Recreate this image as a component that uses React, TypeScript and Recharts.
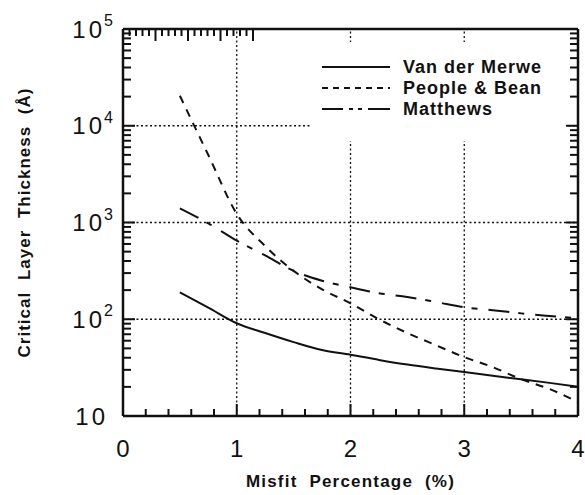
import React from 'react';
import { LineChart, Line, XAxis, YAxis, ReferenceLine, Legend, Label } from 'recharts';

// Misfit percentage (%) sample points shared by all three models
const misfit = [0.5, 0.75, 1.0, 1.25, 1.5, 1.75, 2.0, 2.25, 2.5, 2.75, 3.0, 3.25, 3.5, 3.75, 4.0];
// Critical layer thickness (Å) per model
const vanDerMerwe = [190, 132, 91, 72, 58, 48, 43, 38, 34, 31, 28.5, 26, 24, 22, 20];
const peopleBean = [20400, 4980, 1230, 570, 316, 204, 146, 100, 72, 54, 40.6, 32, 24, 19, 13.9];
const matthews = [1400, 980, 650, 457, 316, 250, 214, 186, 170, 151, 133, 124, 115, 108, 102];

// Axis ticks
const xMajorTicks = [0, 1, 2, 3, 4];
const xMinorTicks = [0.2, 0.4, 0.6, 0.8, 1.2, 1.4, 1.6, 1.8, 2.2, 2.4, 2.6, 2.8, 3.2, 3.4, 3.6, 3.8];
const yDecades = [10, 100, 1000, 10000, 100000];
const yMantissas = [2, 3, 4, 5, 6, 7, 8, 9];
const yMinorTicks = yDecades.slice(0, -1).flatMap((d) => yMantissas.map((m) => m * d));
const xAllTicks = [...xMajorTicks, ...xMinorTicks];
const yAllTicks = [...yDecades, ...yMinorTicks];

// Dotted grid positions
const gridX = [1, 2, 3];
const gridY = [100, 1000, 10000];

const series = [
  { key: 'vdm', name: 'Van der Merwe', values: vanDerMerwe, dash: undefined as string | undefined, legendDash: undefined as string | undefined },
  { key: 'pb', name: 'People & Bean', values: peopleBean, dash: '8 7', legendDash: '6 5' },
  { key: 'mat', name: 'Matthews', values: matthews, dash: '21 9 6 11', legendDash: '21 6 4 5 4 6 22' },
];

const rows = misfit.map((x, i) => {
  const row: Record<string, number> = { x };
  series.forEach((s) => {
    row[s.key] = s.values[i];
  });
  return row;
});

const FONT = '"Liberation Sans", Arial, Helvetica, sans-serif';
const INK = '#111';
const W = 585;
const H = 495;

function XTick(props: any) {
  const { x, y, payload, side } = props;
  const v = payload.value;
  const major = xMajorTicks.includes(v);
  const len = major ? 12 : 7;
  const dir = side === 'bottom' ? -1 : 1;
  return (
    <g>
      <line x1={x} y1={y} x2={x} y2={y + dir * len} stroke={INK} strokeWidth={2} />
      {side === 'bottom' && major && (
        <text x={x} y={y + 41} textAnchor="middle" fontSize={24} fontFamily={FONT} fill={INK}>
          {v}
        </text>
      )}
    </g>
  );
}

function YTick(props: any) {
  const { x, y, payload, side } = props;
  const v = payload.value;
  const major = yDecades.includes(v);
  const len = major ? 12 : 8;
  const dir = side === 'left' ? 1 : -1;
  const exp = Math.round(Math.log10(v));
  return (
    <g>
      <line x1={x} y1={y} x2={x + dir * len} y2={y} stroke={INK} strokeWidth={2} />
      {side === 'left' && major && exp === 1 && (
        <text x={x - 15} y={y + 8.6} textAnchor="end" fontSize={24} letterSpacing={3} fontFamily={FONT} fill={INK}>
          10
        </text>
      )}
      {side === 'left' && major && exp > 1 && (
        <g>
          <text x={x - 18} y={y + 8.6} textAnchor="end" fontSize={24} letterSpacing={3} fontFamily={FONT} fill={INK}>
            10
          </text>
          <text x={x - 19} y={y - 3} textAnchor="start" fontSize={16} fontFamily={FONT} fill={INK}>
            {exp}
          </text>
        </g>
      )}
    </g>
  );
}

function XTitle(props: any) {
  const vb = props.viewBox || {};
  return (
    <text
      x={vb.x + vb.width / 2}
      y={vb.y + 71}
      textAnchor="middle"
      fontSize={17}
      fontWeight="bold"
      letterSpacing={1.2}
      wordSpacing={6}
      fontFamily={FONT}
      fill={INK}
    >
      Misfit Percentage (%)
    </text>
  );
}

function YTitle(props: any) {
  const vb = props.viewBox || {};
  const cx = 24;
  const cy = vb.y + vb.height / 2;
  return (
    <text
      x={cx}
      y={cy}
      transform={`rotate(-90 ${cx} ${cy})`}
      textAnchor="middle"
      dominantBaseline="central"
      fontSize={17}
      fontWeight="bold"
      letterSpacing={1}
      wordSpacing={6}
      fontFamily={FONT}
      fill={INK}
    >
      Critical Layer Thickness (Å)
    </text>
  );
}

function LegendBox() {
  const rowY = [25, 46, 67];
  return (
    <svg width={256} height={99} style={{ display: 'block', background: '#fff' }}>
      {series.map((s, i) => (
        <g key={s.key}>
          <line x1={12} y1={rowY[i]} x2={80} y2={rowY[i]} stroke={INK} strokeWidth={2} strokeDasharray={s.legendDash} />
          <text x={93} y={rowY[i] + 6.4} fontSize={18} fontWeight="bold" letterSpacing={1} fontFamily={FONT} fill={INK}>
            {s.name}
          </text>
        </g>
      ))}
    </svg>
  );
}

export default function App() {
  const frame = { stroke: INK, strokeWidth: 2.5 };
  return (
    <div style={{ position: 'absolute', left: 0, top: 0, width: W, height: H, background: '#fff' }}>
      <LineChart width={W} height={H} data={rows} margin={{ top: 0, right: 0, bottom: 0, left: 0 }}>
        <XAxis
          xAxisId="b"
          dataKey="x"
          type="number"
          orientation="bottom"
          domain={[0, 4]}
          allowDataOverflow
          ticks={xAllTicks}
          interval={0}
          height={79}
          tickSize={0}
          tickMargin={0}
          tickLine={false}
          axisLine={frame}
          tick={(p: any) => <XTick {...p} side="bottom" />}
        >
          <Label content={(p: any) => <XTitle {...p} />} />
        </XAxis>
        <XAxis
          xAxisId="t"
          type="number"
          orientation="top"
          domain={[0, 4]}
          allowDataOverflow
          ticks={xAllTicks}
          interval={0}
          height={29}
          tickSize={0}
          tickMargin={0}
          tickLine={false}
          axisLine={frame}
          tick={(p: any) => <XTick {...p} side="top" />}
        />
        <YAxis
          yAxisId="l"
          type="number"
          scale="log"
          orientation="left"
          domain={[10, 100000]}
          allowDataOverflow
          ticks={yAllTicks}
          interval={0}
          width={123}
          tickSize={0}
          tickMargin={0}
          tickLine={false}
          axisLine={frame}
          tick={(p: any) => <YTick {...p} side="left" />}
        >
          <Label content={(p: any) => <YTitle {...p} />} />
        </YAxis>
        <YAxis
          yAxisId="r"
          type="number"
          scale="log"
          orientation="right"
          domain={[10, 100000]}
          allowDataOverflow
          ticks={yAllTicks}
          interval={0}
          width={7}
          tickSize={0}
          tickMargin={0}
          tickLine={false}
          axisLine={frame}
          tick={(p: any) => <YTick {...p} side="right" />}
        />
        {gridX.map((g) => (
          <ReferenceLine key={`gx${g}`} x={g} xAxisId="b" yAxisId="l" stroke={INK} strokeWidth={1.3} strokeDasharray="2 2.5" />
        ))}
        {gridY.map((g) => (
          <ReferenceLine key={`gy${g}`} y={g} xAxisId="b" yAxisId="l" stroke={INK} strokeWidth={1.3} strokeDasharray="2 2.5" />
        ))}
        {series.map((s) => (
          <Line
            key={s.key}
            xAxisId="b"
            yAxisId="l"
            dataKey={s.key}
            name={s.name}
            type="monotone"
            stroke={INK}
            strokeWidth={2}
            strokeDasharray={s.dash}
            dot={false}
            activeDot={false}
            isAnimationActive={false}
          />
        ))}
        <Legend
          layout="horizontal"
          verticalAlign="middle"
          align="center"
          wrapperStyle={{ position: 'absolute', left: 310, top: 42, width: 256, height: 99, margin: 0, padding: 0 }}
          content={() => <LegendBox />}
        />
      </LineChart>
    </div>
  );
}
